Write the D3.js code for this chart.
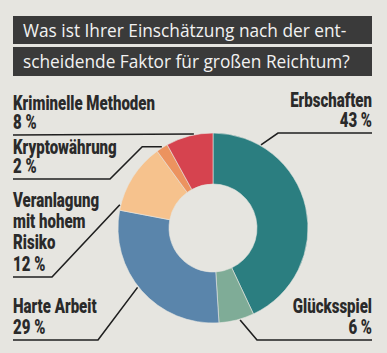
<!DOCTYPE html>
<html><head><meta charset="utf-8">
<script src="https://cdn.jsdelivr.net/npm/d3@7"></script>
<style>
html,body{margin:0;padding:0;background:#e6e5e0;}
svg{display:block;}
</style></head>
<body>
<svg id="c" width="387" height="353"></svg>
<script>
// ---- data ----
const categories = ["Erbschaften","Glücksspiel","Harte Arbeit","Veranlagung mit hohem Risiko","Kryptowährung","Kriminelle Methoden"];
const values = [43, 6, 29, 12, 2, 8];
const colors = ["#2b7e80","#7fac97","#5a85ab","#f6c28d","#ec935f","#d6434f"];
const titleLines = ["Was ist Ihrer Einschätzung nach der ent-","scheidende Faktor für großen Reichtum?"];
const labelLines = [["Erbschaften"],["Glücksspiel"],["Harte Arbeit"],["Veranlagung","mit hohem","Risiko"],["Kryptowährung"],["Kriminelle Methoden"]];

// ---- layout ----
const W = 387, H = 353;
const cx = 213, cy = 228, R = 95, r = 44;
const svg = d3.select("#c");
svg.append("rect").attr("width",W).attr("height",H).attr("fill","#e6e5e0");

// title
const boxes = [{y:16,h:28},{y:47,h:29}];
titleLines.forEach((t,i)=>{
  svg.append("rect").attr("x",13).attr("y",boxes[i].y).attr("width",359).attr("height",boxes[i].h).attr("fill","#3a3a3a");
  svg.append("text").attr("x",23).attr("y",boxes[i].y+21).attr("fill","#f2f2f2")
    .attr("font-family","'Open Sans',sans-serif").attr("font-size",17.3).text(t);
});

// donut
const pie = d3.pie().sort(null).value(d=>d)(values);
const arc = d3.arc().innerRadius(r).outerRadius(R);
const g = svg.append("g").attr("transform",`translate(${cx},${cy})`);
g.selectAll("path").data(pie).join("path").attr("d",arc)
  .attr("fill",(d,i)=>colors[i]).attr("stroke","#e6e5e0").attr("stroke-width",0.6);

// labels
const lay = [
  {side:"r", sp:20, ly:133, ex:278, ang:30},
  {side:"r", sp:21, ly:340, ex:257, ang:163.6},
  {side:"l", sp:21, ly:340, ex:98, ang:231.8},
  {side:"l", sp:21.5, ly:277, ex:52, ang:284},
  {side:"l", sp:19.5, ly:179, ex:110, ang:327.8, extra:true},
  {side:"l", sp:19, ly:135, ex:null, ang:348.5}
];
const font = "Roboto,'DejaVu Sans',sans-serif";
const fs = 20.5, fw = 900;
// measure condensing factor
const probe = svg.append("text").attr("font-family",font).attr("font-weight",fw).attr("font-size",fs).text(labelLines[5][0]);
const fx = 142 / probe.node().getComputedTextLength();
probe.remove();

lay.forEach((L,i)=>{
  const xText = L.side==="l" ? 13 : 372;
  const anchor = L.side==="l" ? "start" : "end";
  const lines = labelLines[i].concat([values[i]+" %"]);
  const lastBase = L.ly - 6;
  const firstBase = lastBase - (lines.length-1)*L.sp;
  const t = svg.append("text")
    .attr("transform",`translate(${xText},${firstBase}) scale(${fx},1)`)
    .attr("text-anchor",anchor)
    .attr("font-family",font).attr("font-weight",fw).attr("font-size",fs)
    .attr("fill","#2a2a2a");
  lines.forEach((s,j)=>{
    t.append("tspan").attr("x",0).attr("y",j*L.sp).text(s);
  });
  const a = L.ang*Math.PI/180;
  const ax = cx + (R+1)*Math.sin(a), ay = cy - (R+1)*Math.cos(a);
  let pts = [[xText, L.ly]];
  if (L.ex!==null) pts.push([L.ex, L.ly]);
  if (L.extra) pts.push([L.ex + (L.ly-ay), ay]);
  pts.push([ax, ay]);
  svg.append("path").attr("d",d3.line()(pts)).attr("fill","none")
    .attr("stroke","#1f1f1f").attr("stroke-width",1.6);
});
</script>
</body></html>
